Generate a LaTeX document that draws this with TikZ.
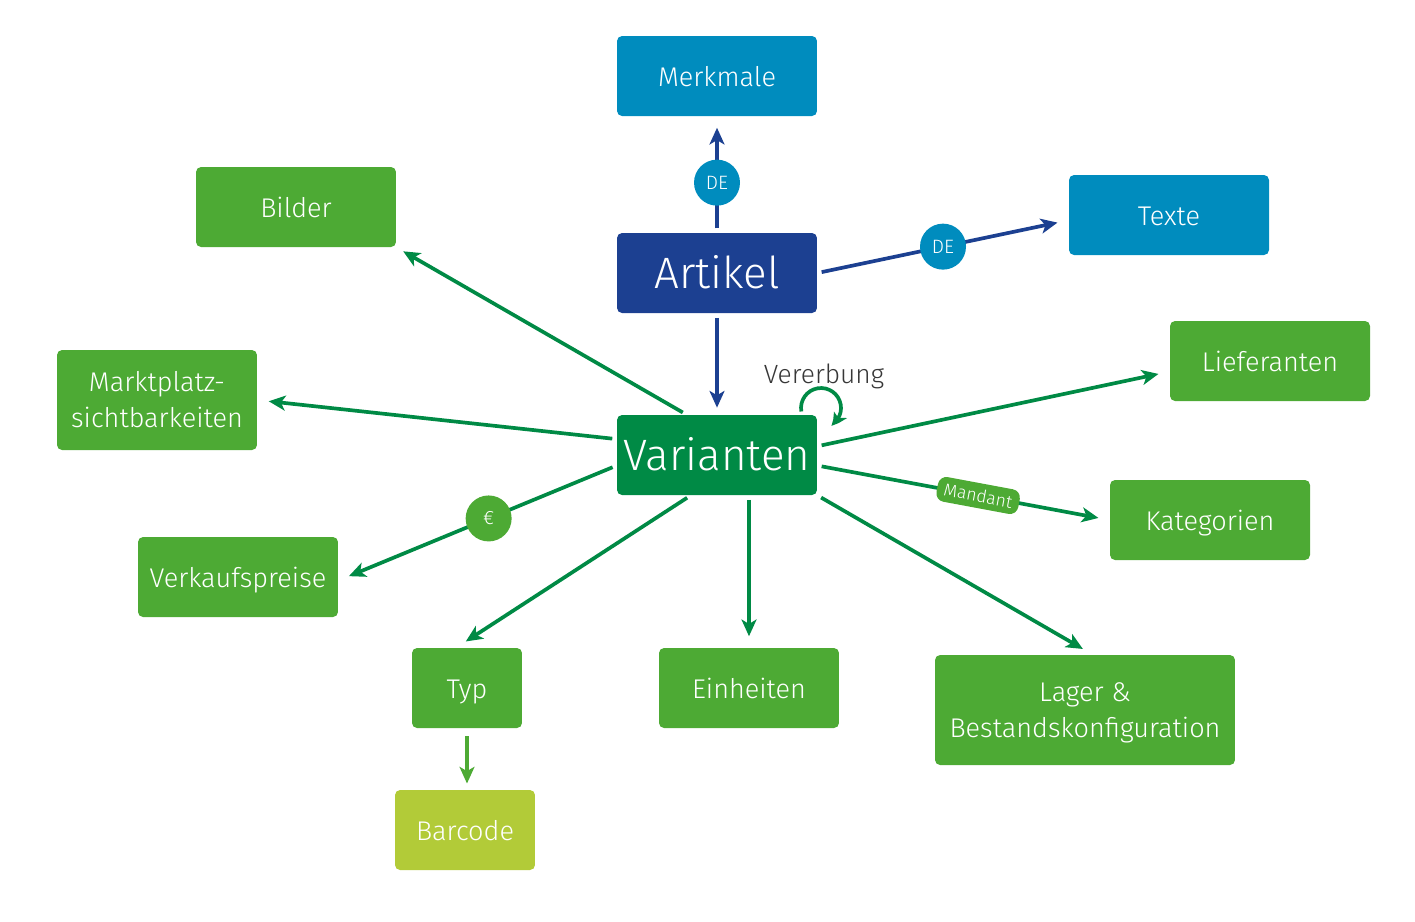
\documentclass[tikz,border=0pt]{standalone}
\usepackage{fontspec}
\setmainfont{Fira Sans Light}
\usetikzlibrary{arrows.meta,bending}
\definecolor{dblue}{RGB}{28,64,145}
\definecolor{lightblue}{RGB}{0,140,190}
\definecolor{boxgreen}{RGB}{77,170,52}
\definecolor{dgreen}{RGB}{0,138,69}
\definecolor{lime}{RGB}{178,203,56}
\definecolor{txtgray}{RGB}{55,55,55}
\begin{document}
\begin{tikzpicture}[x=0.02cm,y=-0.02cm,
 box/.style={rectangle, rounded corners=0.1cm, minimum width=4cm, minimum height=1.6cm, text=white, font=\fontsize{15.4}{20.4}\selectfont, align=center, inner sep=0pt, text height=12pt, text depth=0pt},
 twoline/.style={text height=31.6pt, text depth=0pt},
 gbox/.style={box, fill=boxgreen},
 bbox/.style={box, fill=lightblue},
 bigbox/.style={box, font=\fontsize{25}{28}\selectfont, text height=17.3pt},
 conn/.style={line width=2.1pt, -{Stealth[length=9.5pt,width=8.5pt,inset=2.5pt]}, shorten <=2.5pt, shorten >=6.5pt},
 gconn/.style={conn, draw=dgreen},
 bconn/.style={conn, draw=dblue},
 tag/.style={circle, minimum size=0.92cm, inner sep=0pt, text=white, font=\fontsize{11}{12}\selectfont},
]
\useasboundingbox (0,0) rectangle (1415,921);

% nodes
\node[bbox] (merk) at (717,76) {Merkmale};
\node[gbox] (bild) at (296,207) {Bilder};
\node[bbox] (texte) at (1169,215) {Texte};
\node[bigbox, fill=dblue] (art) at (717,273) {Artikel};
\node[gbox] (lief) at (1270,361) {Lieferanten};
\node[gbox, twoline, minimum height=2cm] (mp) at (157,400) {Marktplatz-\\sichtbarkeiten};
\node[bigbox, fill=dgreen] (var) at (717,455) {Varianten};
\node[gbox] (kat) at (1210,520) {Kategorien};
\node[gbox] (vk) at (238,577) {Verkaufspreise};
\node[gbox, minimum width=2.2cm] (typ) at (467,688) {Typ};
\node[gbox, minimum width=3.6cm] (einh) at (749,688) {Einheiten};
\node[gbox, twoline, minimum width=6cm, minimum height=2.2cm] (lager) at (1085,710) {Lager \&\\Bestandskonfiguration};
\node[box, fill=lime, minimum width=2.8cm] (bar) at (465,830) {Barcode};
\node[font=\fontsize{15}{17}\selectfont, text=txtgray] (ver) at (824,376) {Vererbung};
\coordinate (loop) at (821,408);

% connectors from Artikel
\draw[bconn] (art.north) -- node[tag, fill=lightblue, pos=0.43] {DE} (merk.south);
\draw[bconn] (art.east) -- node[tag, fill=lightblue, pos=0.5] {DE} (texte.183);
\draw[bconn, shorten >=4pt] (art.south) -- (var.north);

% connectors from Varianten
\draw[gconn, shorten >=4.5pt] (var.127) -- (bild.south east);
\draw[gconn] (var.171) -- (mp.east);
\draw[gconn] (var.186) -- node[tag, fill=boxgreen, pos=0.46] {€} (vk.-2);
\draw[gconn] (var.237) -- (typ.105);
\draw[gconn] (var.south -| einh.north) -- (einh.north);
\draw[gconn] (var.south east) -- (lager.82);
\draw[gconn] (var.-6) -- node[pos=0.55, sloped, fill=boxgreen, rounded corners=0.17cm, text=white, font=\fontsize{10}{11}\selectfont, minimum height=0.5cm, inner xsep=4pt, inner ysep=1pt] {Mandant} (kat.west);
\draw[gconn] (var.5) -- (lief.186);
\draw[conn, draw=boxgreen, line width=1.8pt, shorten <=4.5pt, shorten >=3.5pt] (typ.south) -- (typ.south |- bar.north);

% Vererbung loop
\draw[dgreen, line width=2.1pt, -{Stealth[length=8pt,width=8pt,inset=2pt,bend]}] ([shift={(190:0.4cm)}]loop) arc[start angle=190, end angle=-60, radius=0.4cm];
\end{tikzpicture}
\end{document}
